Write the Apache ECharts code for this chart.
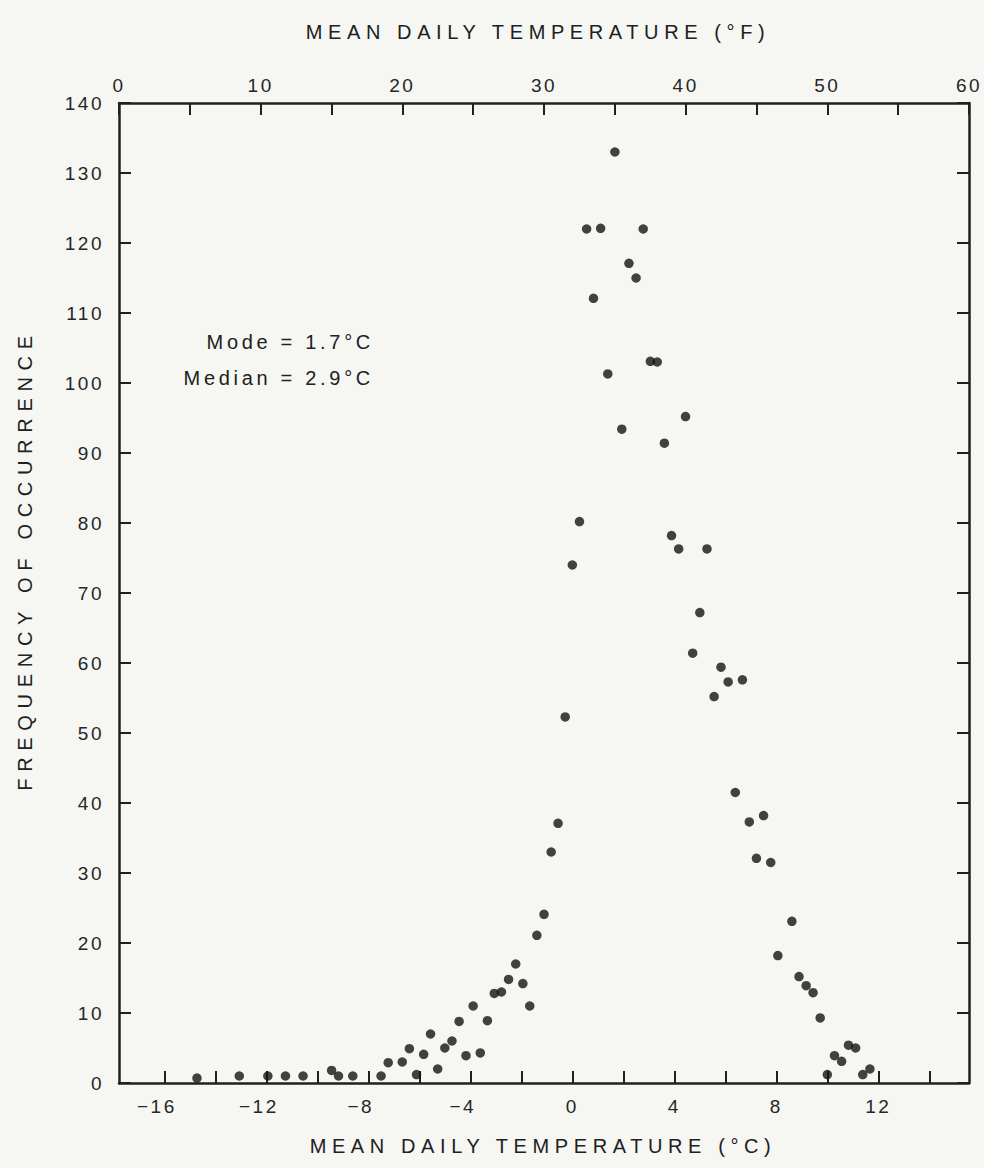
<!DOCTYPE html>
<html>
<head>
<meta charset="utf-8">
<title>Mean daily temperature frequency</title>
<script src="https://cdn.jsdelivr.net/npm/echarts@6/dist/echarts.min.js"></script>
<style>
  html, body { margin: 0; padding: 0; background: #f6f6f3; }
  #chart { width: 984px; height: 1168px; }
  #chart text { letter-spacing: 2.5px; }
</style>
</head>
<body>
<div id="chart"></div>
<script>
// Mean daily temperature (°C, half-degree °F bins) and number of days in each bin
const tempC = [-14.72, -13.06, -11.94, -11.25, -10.56, -9.44, -9.17, -8.61, -7.50, -7.22,
  -6.67, -6.39, -6.11, -5.83, -5.56, -5.28, -5.00, -4.72, -4.44, -4.17,
  -3.89, -3.61, -3.33, -3.06, -2.78, -2.50, -2.22, -1.94, -1.67, -1.39,
  -1.11, -0.83, -0.56, -0.28, 0.00, 0.28, 0.56, 0.83, 1.11, 1.39,
  1.67, 1.94, 2.22, 2.50, 2.78, 3.06, 3.33, 3.61, 3.89, 4.17,
  4.44, 4.72, 5.00, 5.28, 5.56, 5.83, 6.11, 6.39, 6.67, 6.94,
  7.22, 7.50, 7.78, 8.06, 8.61, 8.89, 9.17, 9.44, 9.72, 10.00,
  10.28, 10.56, 10.83, 11.11, 11.39, 11.67];
const frequency = [0.7, 1, 1, 1, 1, 1.8, 1, 1, 1, 2.9,
  3, 4.9, 1.2, 4.1, 7, 2, 5, 6, 8.8, 3.9,
  11, 4.3, 8.9, 12.8, 13, 14.8, 17, 14.2, 11, 21.1,
  24.1, 33, 37.1, 52.3, 74, 80.2, 122, 112.1, 122.1, 101.3,
  133, 93.4, 117.1, 115, 122, 103.1, 103, 91.4, 78.2, 76.3,
  95.2, 61.4, 67.2, 76.3, 55.2, 59.4, 57.3, 41.5, 57.6, 37.3,
  32.1, 38.2, 31.5, 18.2, 23.1, 15.2, 13.9, 12.9, 9.3, 1.2,
  3.9, 3.1, 5.4, 5.0, 1.2, 2.0];

// Axis ticks and labels
const fahrenheitRange = [0, 60];
const fahrenheitTickStep = 5;
const fahrenheitLabelStep = 10;
const celsiusTicks = [-16, -14, -12, -10, -8, -6, -4, -2, 0, 2, 4, 6, 8, 10, 12, 14];
const celsiusLabels = [-16, -12, -8, -4, 0, 4, 8, 12];
const freqRange = [0, 140];
const freqStep = 10;

const notes = ['Mode = 1.7°C', 'Median = 2.9°C'];
const titleF = 'MEAN DAILY TEMPERATURE (°F)';
const titleC = 'MEAN DAILY TEMPERATURE (°C)';
const titleY = 'FREQUENCY OF OCCURRENCE';

const toC = f => (f - 32) / 1.8;
const FONT = '"Liberation Sans", Arial, Helvetica, sans-serif';
const INK = '#202020';

const axisLine = { show: true, onZero: false, lineStyle: { color: INK, width: 2.5 } };
const tick = { show: true, inside: true, length: 12, lineStyle: { color: INK, width: 2 } };
const labelStyle = { color: '#262626', fontSize: 19, fontFamily: FONT };

const chart = echarts.init(document.getElementById('chart'), null, { renderer: 'svg' });

chart.setOption({
  backgroundColor: '#f6f6f3',
  animation: false,
  grid: { left: 119, right: 15, top: 103, bottom: 85 },
  xAxis: [
    {
      type: 'value',
      position: 'bottom',
      min: toC(fahrenheitRange[0]),
      max: toC(fahrenheitRange[1]),
      axisLine: axisLine,
      axisTick: Object.assign({}, tick, { customValues: celsiusTicks }),
      splitLine: { show: false },
      axisLabel: Object.assign({}, labelStyle, {
        customValues: celsiusLabels,
        margin: 14,
        formatter: v => v < 0 ? '{neg|\u2212' + Math.abs(v) + '}' : String(v),
        rich: { neg: { fontSize: 19, fontFamily: FONT, color: '#262626', padding: [0, 15, 0, 0] } }
      })
    },
    {
      type: 'value',
      position: 'top',
      min: fahrenheitRange[0],
      max: fahrenheitRange[1],
      interval: fahrenheitTickStep,
      axisLine: axisLine,
      axisTick: tick,
      splitLine: { show: false },
      axisLabel: Object.assign({}, labelStyle, {
        margin: 8,
        showMinLabel: true,
        showMaxLabel: true,
        formatter: v => v % fahrenheitLabelStep === 0 ? String(v) : ''
      })
    }
  ],
  yAxis: [
    {
      type: 'value',
      position: 'left',
      min: freqRange[0],
      max: freqRange[1],
      interval: freqStep,
      axisLine: axisLine,
      axisTick: tick,
      splitLine: { show: false },
      axisLabel: Object.assign({}, labelStyle, { margin: 15 })
    },
    {
      type: 'value',
      position: 'right',
      min: freqRange[0],
      max: freqRange[1],
      interval: freqStep,
      axisLine: axisLine,
      axisTick: tick,
      splitLine: { show: false },
      axisLabel: { show: false }
    }
  ],
  series: [{
    type: 'scatter',
    xAxisIndex: 0,
    yAxisIndex: 0,
    symbol: 'circle',
    symbolSize: 9.5,
    itemStyle: { color: '#141414' },
    data: tempC.map((t, i) => [t, frequency[i]])
  }],
  graphic: [
    { type: 'text', x: 538, y: 32, style: { text: titleF, fontSize: 20, fontFamily: FONT, fill: INK, align: 'center', verticalAlign: 'middle', textAlign: 'center', textVerticalAlign: 'middle' } },
    { type: 'text', x: 543, y: 1146, style: { text: titleC, fontSize: 20, fontFamily: FONT, fill: INK, align: 'center', verticalAlign: 'middle', textAlign: 'center', textVerticalAlign: 'middle' } },
    { type: 'text', x: 25, y: 560, rotation: Math.PI / 2, style: { text: titleY, fontSize: 20, fontFamily: FONT, fill: INK, align: 'center', verticalAlign: 'middle', textAlign: 'center', textVerticalAlign: 'middle' } },
    { type: 'text', x: 374, y: 342, style: { text: notes[0], fontSize: 20, fontFamily: FONT, fill: INK, align: 'right', verticalAlign: 'middle', textAlign: 'right', textVerticalAlign: 'middle' } },
    { type: 'text', x: 374, y: 378, style: { text: notes[1], fontSize: 20, fontFamily: FONT, fill: INK, align: 'right', verticalAlign: 'middle', textAlign: 'right', textVerticalAlign: 'middle' } }
  ]
});

// Wide tracking for the axis titles and notes, as in the printed figure
const tracking = {};
tracking[titleF] = '5.6px';
tracking[titleC] = '5.6px';
tracking[titleY] = '6.7px';
tracking[notes[0]] = '3.7px';
tracking[notes[1]] = '3.7px';
function applyTracking() {
  document.querySelectorAll('#chart text').forEach(t => {
    const s = tracking[t.textContent];
    if (s) t.style.letterSpacing = s;
  });
}
applyTracking();
chart.on('finished', applyTracking);
setTimeout(applyTracking, 0);
</script>
</body>
</html>
